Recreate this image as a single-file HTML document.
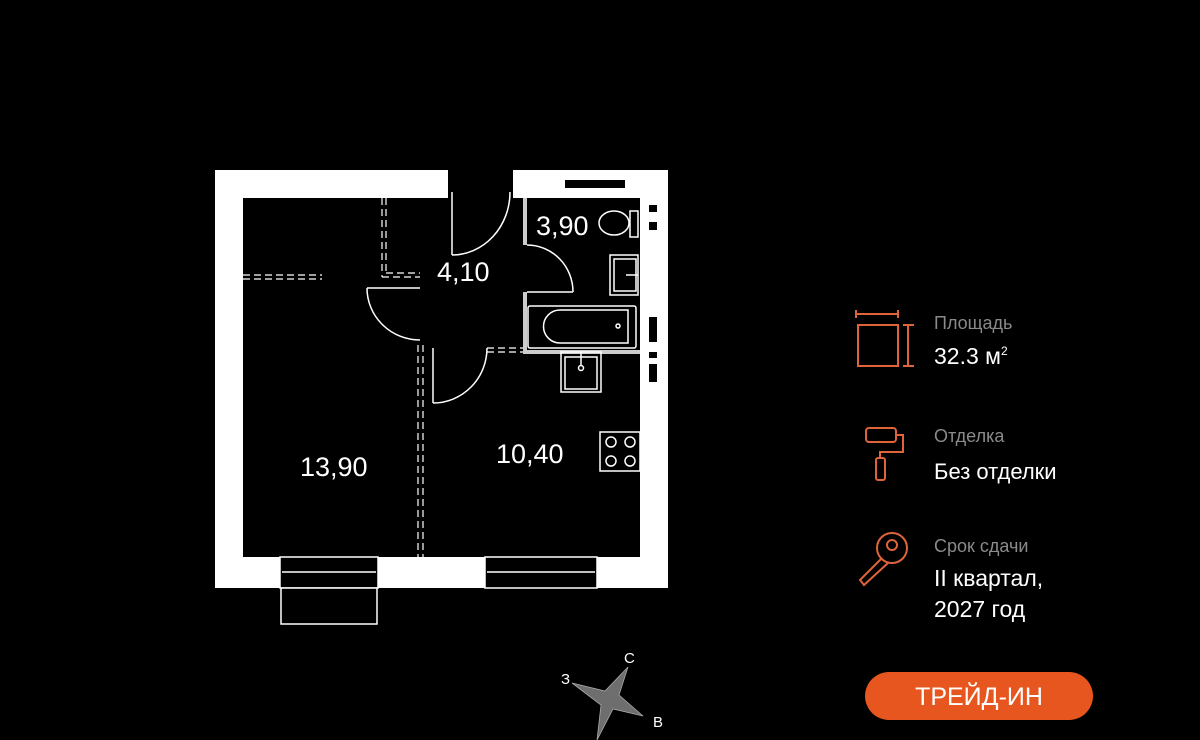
<!DOCTYPE html>
<html><head><meta charset="utf-8"><style>
html,body{margin:0;padding:0;background:#000;width:1200px;height:740px;overflow:hidden}
svg{display:block}
text{font-family:"Liberation Sans","DejaVu Sans",sans-serif}
</style></head><body>
<svg width="1200" height="740" viewBox="0 0 1200 740" xmlns="http://www.w3.org/2000/svg">
<rect width="1200" height="740" fill="#000"/>
<g fill="#fff">
<rect x="215" y="170" width="233" height="28"/>
<rect x="513" y="170" width="155" height="28"/>
<rect x="215" y="170" width="28" height="418"/>
<rect x="640" y="170" width="28" height="418"/>
<rect x="215" y="557" width="453" height="31"/>
</g>
<rect x="565" y="180" width="60" height="8" fill="#000"/>
<g fill="#000">
<rect x="649" y="205" width="8" height="7"/>
<rect x="649" y="222" width="8" height="8"/>
<rect x="649" y="317" width="8" height="25"/>
<rect x="649" y="352" width="8" height="6"/>
<rect x="649" y="364" width="8" height="18"/>
</g>
<g stroke="#fff" stroke-width="1.5">
<rect x="280" y="557" width="98" height="31" fill="#000"/>
<line x1="282" y1="572" x2="376" y2="572"/>
<rect x="281" y="588" width="96" height="36" fill="#000"/>
<rect x="485" y="557" width="112" height="31" fill="#000"/>
<line x1="487" y1="572" x2="595" y2="572"/>
</g>
<g fill="#ccc">
<rect x="523" y="198" width="4" height="47"/>
<rect x="523" y="292" width="4" height="62"/>
<rect x="523" y="350" width="117" height="4"/>
</g>
<g fill="none" stroke="#fff" stroke-width="1.5">
<line x1="452" y1="192" x2="452" y2="255"/>
<path d="M452 255 A58 63 0 0 0 510 192"/>
<path d="M527 245 A46 47 0 0 1 573 292"/>
<line x1="527" y1="292" x2="573" y2="292"/>
<line x1="367" y1="288" x2="420" y2="288"/>
<path d="M367 288 A53 52 0 0 0 420 340"/>
<line x1="433" y1="348" x2="433" y2="403"/>
<path d="M433 403 A54 55 0 0 0 487 348"/>
<rect x="528" y="306" width="108" height="42" rx="2"/>
<path d="M560 310 H628 V343 H560 A16.5 16.5 0 0 1 560 310 Z"/>
<circle cx="618" cy="326" r="2"/>
<ellipse cx="614" cy="223" rx="15" ry="12"/>
<rect x="630" y="211" width="8" height="26"/>
<rect x="610" y="255" width="28" height="40"/>
<rect x="614" y="259" width="22" height="32"/>
<line x1="626" y1="275" x2="638" y2="275"/>
<rect x="561" y="352" width="40" height="40"/>
<rect x="565" y="357" width="32" height="32"/>
<line x1="581" y1="352" x2="581" y2="366"/>
<circle cx="581" cy="368" r="2.5"/>
<rect x="600" y="432" width="40" height="39"/>
<circle cx="611" cy="442" r="5"/><circle cx="630" cy="442" r="5"/>
<circle cx="611" cy="461" r="5"/><circle cx="630" cy="461" r="5"/>
</g>
<g fill="none" stroke="#fff" stroke-width="1.2" stroke-dasharray="7,4">
<line x1="243" y1="275" x2="322" y2="275"/>
<line x1="243" y1="279" x2="322" y2="279"/>
<line x1="382" y1="198" x2="382" y2="277"/>
<line x1="386" y1="198" x2="386" y2="273"/>
<line x1="382" y1="277" x2="420" y2="277"/>
<line x1="386" y1="273" x2="420" y2="273"/>
<line x1="418" y1="345" x2="418" y2="557"/>
<line x1="423" y1="345" x2="423" y2="557"/>
<line x1="487" y1="348" x2="523" y2="348"/>
<line x1="487" y1="352" x2="523" y2="352"/>
</g>
<g fill="#fff" font-size="27">
<text x="536" y="235">3,90</text>
<text x="437" y="281">4,10</text>
<text x="300" y="476">13,90</text>
<text x="496" y="463">10,40</text>
</g>
<path d="M628 667 L619 695 L643 716 L613 709 L597 740 L601 705 L572 683 L605 691 Z" fill="#6e6e6e" stroke="#aaa" stroke-width="0.8"/>
<g fill="#fff" font-size="15">
<text x="624" y="663">С</text>
<text x="561" y="684">З</text>
<text x="653" y="727">В</text>
</g>
<g fill="none" stroke="#e0643a" stroke-width="2">
<line x1="856" y1="314" x2="898" y2="314"/><line x1="856" y1="310" x2="856" y2="318"/><line x1="898" y1="310" x2="898" y2="318"/>
<rect x="858" y="325" width="40" height="41"/>
<line x1="908" y1="325" x2="908" y2="366"/><line x1="903" y1="325" x2="914" y2="325"/><line x1="903" y1="366" x2="914" y2="366"/>
<rect x="866" y="428" width="30" height="14" rx="3"/>
<path d="M896 435 H903 V452 H880 V458"/>
<rect x="876" y="458" width="9" height="22" rx="2"/>
<circle cx="892" cy="548" r="15"/><circle cx="892" cy="545" r="5"/>
<path d="M882 558 L860 580 L864 585 L888 563"/>
</g>
<g>
<text x="934" y="329" fill="#8a8a8a" font-size="18">Площадь</text>
<text x="934" y="364" fill="#fff" font-size="23">32.3 м<tspan font-size="12" dy="-9">2</tspan></text>
<text x="934" y="442" fill="#8a8a8a" font-size="18">Отделка</text>
<text x="934" y="479" fill="#fff" font-size="22">Без отделки</text>
<text x="934" y="552" fill="#8a8a8a" font-size="18">Срок сдачи</text>
<text x="934" y="586" fill="#fff" font-size="23">II квартал,</text>
<text x="934" y="617" fill="#fff" font-size="23">2027 год</text>
</g>
<rect x="865" y="672" width="228" height="48" rx="24" fill="#e8561f"/>
<text x="979" y="705" fill="#fff" font-size="25" text-anchor="middle">ТРЕЙД-ИН</text>
</svg>
</body></html>
